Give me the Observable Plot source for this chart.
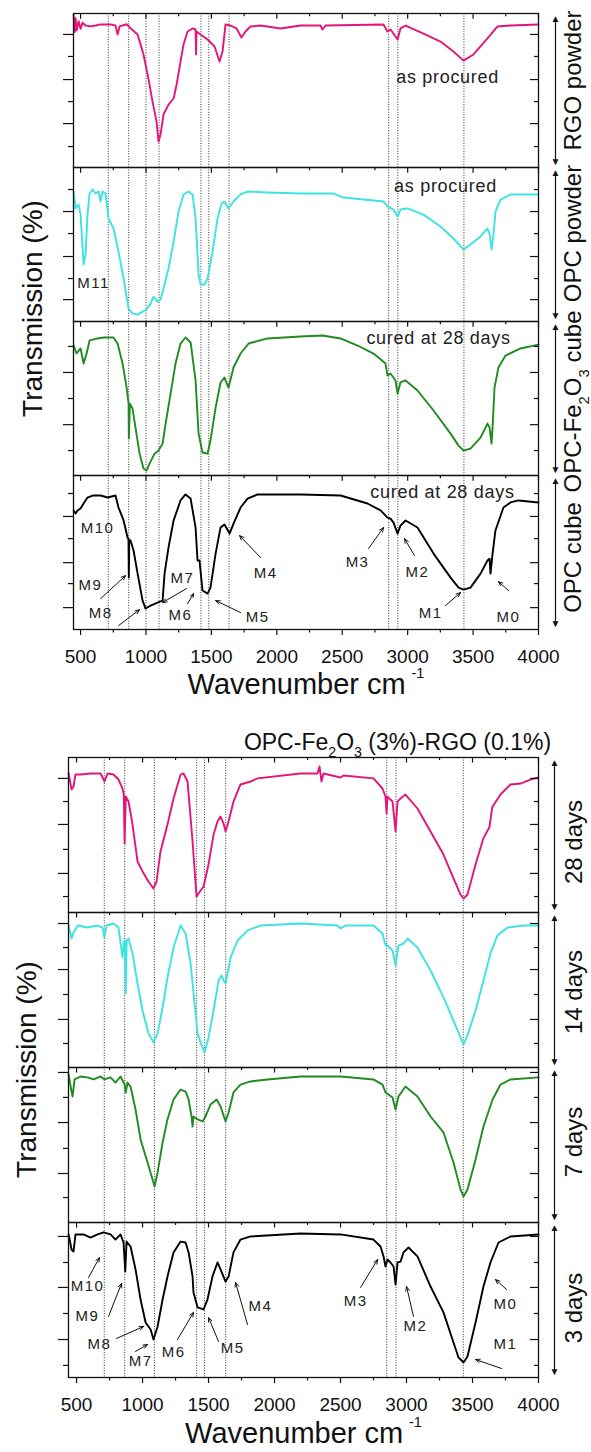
<!DOCTYPE html>
<html><head><meta charset="utf-8">
<script src="https://cdn.jsdelivr.net/npm/d3@7"></script>
<script src="https://cdn.jsdelivr.net/npm/@observablehq/plot@0.6"></script>
<style>
body{margin:0;background:#fff;}
#root{width:591px;}
#root svg{display:block;}
</style></head><body><div id="root"></div>
<script>
// ---------- shared ----------
const xMajor = [500,1000,1500,2000,2500,3000,3500,4000];
const xMinor = [750,1250,1750,2250,2750,3250,3750];
const xLabel = "Wavenumber cm^{-1}";
const yLabel = "Transmission (%)";

// ---------- top chart ----------
const topPanels = ["rgo","opcp","fe","cube"];
const topLabels = ["RGO powder","OPC powder","OPC-Fe_{2}O_{3} cube","OPC cube"];
const topColors = ["#e3147a","#3de3e3","#218a21","#000000"];
const topRefLines = [712,868,1000,1100,1420,1480,1635,2855,2925,3430];

const rgoPowder = [[447,99],[455,88],[462,97],[470,89],[485,95],[500,90],[515,94],[538,92.2],[576,91.6],[615,92.2],[653,92.9],[729,92.9],[767,92.2],[783,86.4],[798,91.6],[852,93],[882,90.4],[936,86.4],[981,73.4],[1020,57.1],[1050,42.8],[1081,29.8],[1096,16.8],[1111,21.4],[1134,34.4],[1172,40.8],[1211,44.8],[1234,53.9],[1264,68.8],[1287,79.9],[1318,88.3],[1356,90.3],[1379,89.6],[1383,73.4],[1386,88.3],[1417,86.4],[1471,83.1],[1524,78.6],[1562,68.8],[1585,75.3],[1608,92.9],[1646,92.2],[1692,90.3],[1730,84.4],[1761,88.3],[1799,91.6],[1876,92.2],[2028,90.3],[2181,92.2],[2334,92.2],[2349,89.6],[2372,92.2],[2815,92.9],[2846,88.3],[2869,89.6],[2923,83.1],[2945,90.3],[2984,92.2],[3121,87],[3251,81.8],[3350,75.3],[3427,69.4],[3503,73.4],[3610,83.8],[3687,91.6],[3786,92.2],[4000,92.9]];
const opcPowder = [[447,84.4],[462,73.4],[485,76],[500,69.4],[523,37],[538,43.4],[553,69.4],[569,83.1],[592,85.7],[615,83.1],[638,84.4],[653,77.9],[668,84.4],[691,83.1],[714,66.9],[752,60.4],[790,45.4],[829,27.9],[867,8.4],[897,5.1],[936,4.5],[974,6.4],[1004,7.7],[1035,11.6],[1058,16.2],[1088,12.9],[1111,14.2],[1134,21.4],[1172,34.4],[1211,51.9],[1249,71.4],[1287,82.5],[1325,84.4],[1356,82.5],[1379,66.9],[1402,30.5],[1417,24],[1448,24],[1471,27.9],[1509,45.4],[1547,66.9],[1578,76.6],[1600,77.9],[1631,73.4],[1669,77.9],[1723,82.5],[1776,84.4],[1929,83.8],[2181,83.1],[2433,83.1],[2510,80.5],[2815,77.9],[2846,74.7],[2892,72.7],[2923,68.2],[2945,72.7],[2999,73.4],[3121,69.4],[3251,61.7],[3350,53.9],[3427,46.7],[3480,50],[3557,55.2],[3610,60.4],[3626,57.1],[3641,46.7],[3656,56.4],[3671,71.4],[3710,79.2],[3786,82.5],[4000,82.5]];
const opcFeCube = [[447,84.4],[469,79.2],[500,82.5],[523,72.7],[546,79.2],[569,87.7],[630,89],[676,89.6],[752,89.6],[783,85.7],[821,72.7],[852,57.1],[867,46.7],[869,24],[877,46.7],[897,43.4],[920,31.1],[951,14.2],[981,4.5],[1004,3.2],[1027,7.7],[1066,14.2],[1096,16.2],[1127,20.7],[1150,33.7],[1188,53.2],[1226,72.7],[1264,85.7],[1302,89.6],[1341,86.4],[1379,61.7],[1402,27.2],[1432,14.9],[1471,14.2],[1493,22.7],[1532,44.1],[1570,60.4],[1600,63.6],[1631,57.1],[1669,70.1],[1723,79.2],[1784,85.7],[1929,89],[2181,90.3],[2349,90.9],[2487,89],[2617,84.4],[2739,79.2],[2831,72.7],[2846,64.9],[2869,66.2],[2907,61.7],[2923,53.2],[2945,60.4],[2984,61.7],[3075,55.2],[3198,42.2],[3328,27.2],[3389,19.4],[3427,16.2],[3480,17.5],[3557,24.6],[3610,33.7],[3626,31.1],[3641,20.7],[3649,31.1],[3664,57.1],[3694,70.1],[3748,77.9],[3862,82.5],[4000,85]];
const opcCube = [[447,77.3],[462,75.3],[477,77.3],[500,78.6],[523,81.8],[553,85.7],[592,87],[653,87],[706,85.7],[767,87],[790,79.2],[829,70.8],[859,59.7],[866,59],[869,33.7],[872,58],[882,57.8],[905,51.3],[936,36.3],[974,18.8],[997,13.6],[1035,15.5],[1088,17.5],[1127,18.8],[1142,36.3],[1172,53.2],[1211,70.8],[1264,83.8],[1302,87.7],[1341,85],[1379,66.2],[1394,44.8],[1409,44.8],[1432,25.3],[1471,23.3],[1493,27.2],[1532,49.3],[1570,66.2],[1600,68.2],[1639,62.3],[1669,68.8],[1723,79.2],[1776,85],[1853,87.7],[2181,87.7],[2487,87],[2693,81.8],[2793,77.3],[2846,72.7],[2869,72],[2892,69.4],[2923,62.3],[2945,67.5],[2984,70.8],[3075,66.2],[3198,49.3],[3328,33.7],[3389,27.2],[3427,25.9],[3480,27.2],[3557,36.3],[3610,44.8],[3626,46],[3633,36.3],[3649,49.3],[3671,64.3],[3732,79.2],[3786,82.5],[3847,83.8],[4000,82.5]];

const topYTicks = [
  [[86.4,1],[72.1,0],[57.1,1],[42.8,0],[28.5,1],[13.6,0]],
  [[85.7,0],[71.4,1],[57.1,0],[42.2,1],[27.9,0],[14.2,1]],
  [[83.8,0],[66.9,1],[50,0],[33,1],[16.2,0]],
  [[88.3,0],[73.4,1],[59,0],[43.4,1],[29.8,0],[14.2,1]]
];
const topNotes = [
  ["rgo",3305,58.4,"as procured"],
  ["opcp",3289,87.7,"as procured"],
  ["fe",3236,89,"cured at 28 days"],
  ["cube",3266,89,"cured at 28 days"]
];
const topMarkers = [
  ["M10",630,65.5,"cube"],["M9",576,28.5,"cube"],["M8",653,10.3,"cube"],["M7",1279,33,"cube"],
  ["M6",1264,9,"cube"],["M5",1853,7.7,"cube"],["M4",1914,36.3,"cube"],["M3",2617,43.5,"cube"],
  ["M2",3075,37,"cube"],["M1",3175,10.3,"cube"],["M0",3771,7.7,"cube"],["M11",599,24.6,"opcp"]
];
const topArrows = [
  [653,20,844,35],[790,2.5,951,12.9],[1310,26.6,1127,17.5],[1318,16.8,1364,23.3],
  [1723,11,1532,18.8],[1876,46.7,1715,61],[2701,52.6,2816,66.2],[3052,48,2976,59],
  [3289,15.5,3404,24],[3771,25.3,3694,31.1]
];

// ---------- bottom chart ----------
const botTitle = "OPC-Fe_{2}O_{3} (3%)-RGO (0.1%)";
const botPanels = ["d28","d14","d7","d3"];
const botLabels = ["28 days","14 days","7 days","3 days"];
const botColors = ["#e3147a","#3de3e3","#218a21","#000000"];
const botRefLines = [710,865,1090,1410,1470,1630,2850,2920,3430];

const days28 = [[440,89.7],[462,79.4],[477,81.3],[492,89],[530,89],[606,89.7],[682,89.7],[712,84.5],[735,89.7],[780,89],[818,85.8],[848,80],[858,76.1],[864,44.5],[873,74.8],[894,71.6],[924,56.8],[962,32.9],[1000,26.5],[1045,20],[1083,15.5],[1106,20],[1136,39.4],[1189,56.8],[1235,73.6],[1288,89],[1311,89.7],[1341,84.5],[1379,45.8],[1409,10.3],[1424,12.3],[1462,16.8],[1500,31],[1538,50.3],[1568,58.7],[1591,61.9],[1614,57.4],[1629,52.3],[1652,58.7],[1689,71.6],[1742,82.6],[1818,84.5],[1871,86.5],[2197,89.7],[2326,89.7],[2341,94.2],[2356,84.5],[2371,89.7],[2500,87.1],[2523,88.4],[2750,86.5],[2818,80],[2841,74.8],[2849,63.9],[2856,74.8],[2894,71.6],[2917,52.3],[2932,71.6],[2955,73.6],[2992,76.1],[3083,67.1],[3182,52.3],[3280,37.4],[3356,22],[3409,11.6],[3432,9],[3462,11.6],[3523,31],[3583,48],[3628,55],[3650,68],[3712,76.1],[3788,82.6],[3864,83.2],[3939,85.8],[4000,87.1]];
const days14 = [[440,91.6],[462,83.2],[477,87.1],[508,91.6],[583,90.3],[659,91.6],[697,90.3],[712,83.9],[727,91.6],[780,92.9],[818,90.3],[848,71],[858,80.7],[866,82],[873,47.8],[880,81.9],[894,83.2],[924,73.6],[962,54.2],[1000,36.8],[1045,22],[1083,16.2],[1114,22],[1152,38.7],[1189,58.1],[1235,77.4],[1288,91.6],[1326,86.5],[1364,67.1],[1417,22],[1439,16.2],[1470,9.7],[1500,19.4],[1538,36.8],[1576,56.1],[1599,59.4],[1614,56.1],[1629,54.2],[1667,71],[1720,81.9],[1795,88.4],[1894,91.6],[2197,92.9],[2477,91.6],[2500,89.7],[2538,91.6],[2750,91.6],[2818,86.5],[2841,78.7],[2856,78.7],[2894,75.5],[2917,65.8],[2939,78.7],[2977,80],[3008,83.2],[3083,77.4],[3182,62.6],[3280,45.2],[3356,30.3],[3409,19.4],[3432,14.9],[3462,20.7],[3523,36.8],[3583,56.1],[3636,73.6],[3689,85.2],[3765,90.3],[3886,91.6],[4000,91.6]];
const days7 = [[440,95.5],[462,84.5],[470,81.3],[485,92.3],[530,94.2],[583,93.6],[629,92.3],[682,94.2],[712,92.3],[758,93.6],[795,90.3],[833,94.2],[864,89],[873,83.9],[886,90.3],[909,87.7],[947,72.9],[985,53.6],[1038,38.7],[1076,27.8],[1091,23.2],[1114,32.3],[1152,51.6],[1189,66.5],[1235,79.4],[1288,85.8],[1326,84.5],[1349,79.4],[1371,68.4],[1379,61.9],[1386,68.4],[1417,66.5],[1455,65.2],[1477,68.4],[1515,76.1],[1561,79.4],[1591,74.8],[1629,65.2],[1652,71],[1689,83.9],[1742,89],[1818,91],[1947,92.3],[2197,94.2],[2500,94.2],[2750,92.3],[2818,89],[2841,83.9],[2864,82.6],[2894,80.7],[2917,72.9],[2939,81.3],[2992,87.7],[3083,81.3],[3182,68.4],[3280,58.1],[3356,38.7],[3409,21.3],[3432,16.8],[3462,21.3],[3523,40.7],[3583,61.9],[3652,79.4],[3712,89],[3788,92.3],[4000,93.6]];
const days3 = [[440,92.3],[462,82.6],[477,81.3],[492,92.3],[553,92.3],[606,90.3],[659,92.3],[705,93.6],[758,92.3],[795,89],[833,92.3],[856,87.1],[869,68.4],[879,87.7],[909,84.5],[947,69.7],[985,50.3],[1023,35.5],[1061,31],[1083,24.5],[1114,32.9],[1152,50.3],[1189,65.2],[1235,80.7],[1288,87.7],[1326,87.1],[1349,80.7],[1379,65.2],[1386,54.9],[1417,45.2],[1462,43.9],[1492,50.3],[1530,65.2],[1568,74.2],[1591,69.7],[1629,61.9],[1652,65.2],[1689,80.7],[1742,89],[1818,91],[2197,92.9],[2500,92.3],[2750,89],[2803,84.5],[2826,78.1],[2841,71.6],[2856,76.1],[2879,74.2],[2902,71.6],[2917,60],[2932,74.2],[2955,74.8],[2977,80.7],[3015,83.9],[3083,78.1],[3182,58.7],[3280,42],[3356,22.6],[3394,12.9],[3432,9.7],[3462,13.6],[3523,35.5],[3583,58.7],[3636,74.2],[3697,87.1],[3788,91],[4000,92.3]];

const botYTicks = [
  [[86.5,1],[71.6,0],[56.8,1],[40.7,0],[25.2,1],[10.3,0]],
  [[92.9,1],[77.4,0],[63.2,1],[47.1,0],[31,1],[15.5,0]],
  [[96.8,1],[80.7,0],[64.5,1],[47.8,0],[31.6,1],[16.1,0]],
  [[91,1],[74.2,0],[58.1,1],[41.3,0],[24.5,1],[7.8,0]]
];
const botMarkers = [
  ["M10",583,58.7,"d3"],["M9",583,39.4,"d3"],["M8",674,21.3,"d3"],["M7",985,10.3,"d3"],
  ["M6",1235,16.2,"d3"],["M5",1682,18.7,"d3"],["M4",1894,45.8,"d3"],["M3",2614,49,"d3"],
  ["M2",3068,32.9,"d3"],["M0",3750,47.1,"d3"],["M1",3750,21.3,"d3"]
];
const botArrows = [
  [591,64.5,674,77.4],[742,39.4,841,60.7],[803,25.2,1008,32.9],[947,16.8,1038,21.3],
  [1265,24.5,1386,42],[1576,23.2,1500,38.7],[1795,34.2,1705,61.3],[2652,58.1,2781,76.1],
  [3053,39.4,3000,58.7],[3758,56.8,3674,63.2],[3720,5.8,3523,11.6]
];

// ---------- builder ----------
function buildChart(c) {
  const n = c.panels.length;
  const H = (c.height - c.marginTop - c.marginBottom) / n;
  const W = 591 - c.marginLeft - c.marginRight;
  const last = c.panels[n - 1];
  const rows = c.series.flatMap((s, i) => s.map(([w, t]) => ({w, t, panel: c.panels[i]})));
  const yt = c.yTicks.flatMap((arr, i) => arr.map(([t, m]) => ({t, major: m === 1, panel: c.panels[i]})));
  const maj = yt.filter(d => d.major), mnr = yt.filter(d => !d.major);
  const notes = (c.notes || []).map(([panel, w, t, text]) => ({panel, w, t, text}));
  const marks = c.markers.map(([label, w, t, panel]) => ({label, w, t, panel}));
  const arrows = c.arrows.map(([w1, t1, w2, t2]) => ({w1, t1, w2, t2}));
  const ink = "#111";
  const mk = [
    Plot.ruleX(c.refLines, {x: d => d, stroke: "#333", strokeWidth: 1, strokeDasharray: "1,1.6"}),
    Plot.line(rows, {x: "w", y: "t", fy: "panel", stroke: "panel", strokeWidth: 1.9, strokeLinejoin: "round"}),
    Plot.frame({stroke: ink, strokeWidth: 1.3}),
    Plot.tickX(xMajor, {x: d => d, insetBottom: H - 6, stroke: ink, strokeWidth: 1.2}),
    Plot.tickX(xMinor, {x: d => d, insetBottom: H - 3.5, stroke: ink, strokeWidth: 1.2}),
    Plot.tickX(xMajor, {x: d => d, fy: () => last, insetTop: H, insetBottom: -6, stroke: ink, strokeWidth: 1.2}),
    Plot.tickX(xMinor, {x: d => d, fy: () => last, insetTop: H, insetBottom: -3.5, stroke: ink, strokeWidth: 1.2}),
    Plot.axisX(xMajor, {anchor: "bottom", tickSize: 0, tickPadding: 19.5, fontSize: 19, label: null, fill: ink, tickFormat: d => String(d)}),
    Plot.tickY(maj, {y: "t", fy: "panel", insetLeft: -10, insetRight: W, stroke: ink, strokeWidth: 1.2}),
    Plot.tickY(mnr, {y: "t", fy: "panel", insetLeft: -5, insetRight: W, stroke: ink, strokeWidth: 1.2}),
    Plot.tickY(maj, {y: "t", fy: "panel", insetLeft: W - 8, stroke: ink, strokeWidth: 1.2}),
    Plot.tickY(mnr, {y: "t", fy: "panel", insetLeft: W - 4, stroke: ink, strokeWidth: 1.2}),
    Plot.ruleX([c.xDomain[1]], {x: d => d, dx: c.arrowDx, insetTop: 5, insetBottom: 7, stroke: ink, strokeWidth: 1.2}),
    Plot.text(["\u25B2"], {text: d => d, frameAnchor: "top-right", textAnchor: "middle", dx: c.arrowDx, dy: 1, lineAnchor: "top", fontSize: 10, fill: ink}),
    Plot.text(["\u25BC"], {text: d => d, frameAnchor: "bottom-right", textAnchor: "middle", dx: c.arrowDx, dy: -3, lineAnchor: "bottom", fontSize: 10, fill: ink}),
    ...c.labels.map((lab, i) => Plot.text([lab], {text: d => d, fy: () => c.panels[i], frameAnchor: "right", textAnchor: "middle", lineAnchor: "middle", dx: c.labelDx, dy: c.labelDy[i], rotate: -90, fontSize: 24, fill: ink})),
    Plot.text([yLabel], {text: d => d, fy: () => c.yLabelPanel, frameAnchor: "bottom-left", textAnchor: "middle", lineAnchor: "middle", dx: c.yLabelDx, dy: c.yLabelDy, rotate: -90, fontSize: 28, fill: ink}),
    Plot.text([xLabel], {text: d => d, fy: () => last, frameAnchor: "bottom", textAnchor: "middle", dy: c.xLabelDy, lineAnchor: "bottom", fontSize: 29, fill: ink}),
    Plot.text(notes, {x: "w", y: "t", fy: "panel", text: "text", fontSize: 18, fill: "#222"}),
    Plot.arrow(arrows, {x1: "w1", y1: "t1", x2: "w2", y2: "t2", fy: () => last, stroke: ink, strokeWidth: 1, headLength: 7, headAngle: 45}),
    Plot.text(marks, {x: "w", y: "t", fy: "panel", text: "label", fontSize: 15, fill: "#222"})
  ];
  if (c.title) mk.push(Plot.text([c.title], {text: d => d, fy: () => c.panels[0], frameAnchor: "top", textAnchor: "middle", dx: c.titleDx, dy: -8, lineAnchor: "bottom", fontSize: 23, fill: ink}));
  const svg = Plot.plot({
    width: 591, height: c.height,
    marginTop: c.marginTop, marginBottom: c.marginBottom, marginLeft: c.marginLeft, marginRight: c.marginRight,
    x: {domain: c.xDomain, label: null},
    y: {domain: [0, 100], axis: null},
    fy: {domain: c.panels, padding: 0, axis: null},
    color: {domain: c.panels, range: c.colors},
    style: {fontFamily: "'Liberation Sans', Arial, sans-serif", fontSize: "16px", color: ink, background: "#fff", overflow: "visible"},
    marks: mk
  });
  enrich(svg);
  return svg;
}

function enrich(svg) {
  const ns = "http://www.w3.org/2000/svg";
  svg.querySelectorAll("text").forEach(el => {
    const s = el.textContent;
    if (/^M\d+$/.test(s)) el.setAttribute("letter-spacing", "1.5");
    if (s === "as procured" || s === "cured at 28 days") el.setAttribute("letter-spacing", "0.7");
    if (!/[_^]\{/.test(s)) return;
    const parts = s.split(/([_^]\{[^}]*\})/).filter(p => p);
    while (el.firstChild) el.removeChild(el.firstChild);
    let cur = 0;
    parts.forEach(p => {
      const m = /^([_^])\{(.*)\}$/.exec(p);
      const ts = document.createElementNS(ns, "tspan");
      if (m) {
        const sup = m[1] === "^";
        const k = sup ? 0.5 : 0.62;
        const shift = sup ? -0.55 : 0.32;
        ts.setAttribute("font-size", (k * 100) + "%");
        ts.setAttribute("dy", ((shift - cur) / k).toFixed(3) + "em");
        if (sup) ts.setAttribute("dx", "0.4em");
        cur = shift;
        ts.textContent = m[2];
      } else {
        if (cur !== 0) { ts.setAttribute("dy", (-cur).toFixed(3) + "em"); cur = 0; }
        ts.textContent = p;
      }
      el.appendChild(ts);
    });
  });
}

const root = document.getElementById("root");
root.appendChild(buildChart({
  panels: topPanels, labels: topLabels, labelDy: [-10, -11, 3, 5], labelDx: 35, arrowDx: 17,
  colors: topColors, series: [rgoPowder, opcPowder, opcFeCube, opcCube],
  xDomain: [446, 4000], height: 705, marginTop: 12, marginBottom: 76, marginLeft: 73, marginRight: 53,
  refLines: topRefLines, yTicks: topYTicks, notes: topNotes, markers: topMarkers, arrows: topArrows,
  yLabelPanel: "opcp", yLabelDx: -40, yLabelDy: -13, xLabelDy: 64
}));
root.appendChild(buildChart({
  panels: botPanels, labels: botLabels, labelDy: [7, 2, -3, 8], labelDx: 36, arrowDx: 16,
  colors: botColors, series: [days28, days14, days7, days3],
  xDomain: [439, 4000], height: 747, marginTop: 51, marginBottom: 74, marginLeft: 68, marginRight: 53,
  refLines: botRefLines, yTicks: botYTicks, notes: [], markers: botMarkers, arrows: botArrows,
  yLabelPanel: "d14", yLabelDx: -41, yLabelDy: 2, xLabelDy: 65,
  title: botTitle, titleDx: 94
}));
</script>
</body></html>
